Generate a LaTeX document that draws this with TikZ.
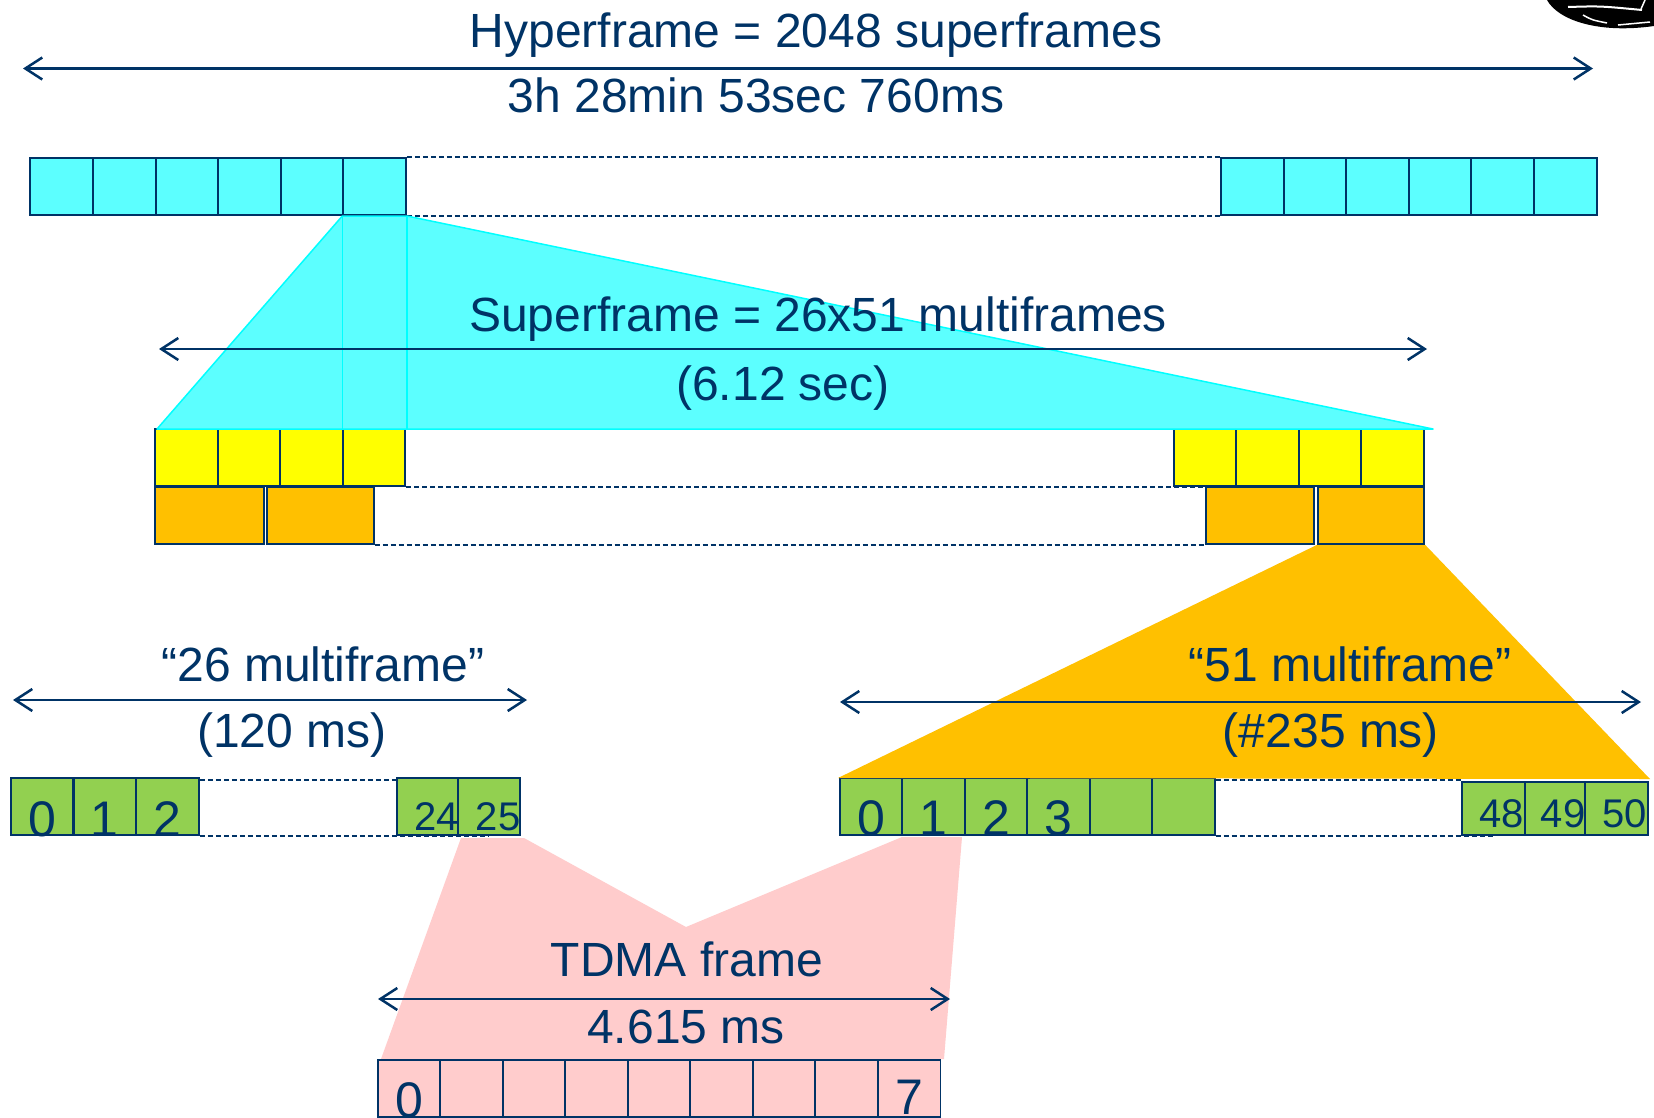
\documentclass[tikz,border=0pt]{standalone}
\usepackage{fontspec}
\setmainfont{Liberation Sans}
\usetikzlibrary{arrows.meta}
\definecolor{navy}{RGB}{0,51,102}
\definecolor{cyanfill}{RGB}{92,255,255}
\definecolor{cyanedge}{RGB}{0,255,255}
\definecolor{yel}{RGB}{255,255,0}
\definecolor{org}{RGB}{255,192,0}
\definecolor{grn}{RGB}{146,208,80}
\definecolor{pnk}{RGB}{255,204,204}
\begin{document}
\begin{tikzpicture}[x=1pt,y=-1pt,
  cell/.style={draw=navy, line width=2pt, rectangle, inner sep=0pt, anchor=north west, minimum height=57pt, minimum width=62.6pt},
  dashline/.style={draw=navy, line width=1.5pt, dash pattern=on 5pt off 3pt},
  span/.style={draw=navy, line width=2.5pt, {Straight Barb[length=17pt,width=22pt]}-{Straight Barb[length=17pt,width=22pt]}},
  big/.style={text=navy, font=\fontsize{48}{56}\selectfont, anchor=base, inner sep=0pt},
  dig/.style={text=navy, font=\fontsize{50}{56}\selectfont, anchor=base, inner sep=0pt},
  sdig/.style={text=navy, font=\fontsize{40}{46}\selectfont, anchor=base, inner sep=0pt},
]
\useasboundingbox (0,0) rectangle (1654,1117);
\fill[white] (0,0) rectangle (1654,1117);

% scribble top right
\fill[black] (1547,0) .. controls (1558,20) and (1598,34) .. (1654,26) -- (1654,0) -- cycle;
\draw[white, line width=2pt] (1568,7) .. controls (1600,6) .. (1642,10);
\draw[white, line width=1.5pt] (1583,15) .. controls (1592,20) .. (1607,23);
\draw[white, line width=1.5pt] (1618,25) -- (1650,22);
\draw[white, line width=1.5pt] (1645,0) -- (1641,9);

% ---------- hyperframe row ----------
\foreach \i in {0,...,5} {
  \node[cell, fill=cyanfill] (hl\i) at ({29.3+62.6*\i},157) {};
  \node[cell, fill=cyanfill] (hr\i) at ({1220+62.6*\i},157) {};
}
\draw[dashline] (hl5.north east) -- (hr0.north west);
\draw[dashline] (hl5.south east) -- (hr0.south west);

% ---------- superframe rows ----------
\foreach \i in {0,...,3} {
  \node[cell, fill=yel] (yl\i) at ({154+62.6*\i},428) {};
  \node[cell, fill=yel] (yr\i) at ({1172.7+62.5*\i},428) {};
}
\node[cell, fill=org, minimum width=109pt] (ol0) at (154.3,486) {};
\node[cell, fill=org, minimum width=107pt] (ol1) at (265.7,486) {};
\node[cell, fill=org, minimum width=108.3pt] (or0) at (1205,486) {};
\node[cell, fill=org, minimum width=106.6pt] (or1) at (1316.7,486) {};
\draw[dashline] (yl3.south east) -- (yl3.south east -| or0.north west);
\draw[dashline] (ol1.south east) -- (ol1.south east -| or0.south west);

% cyan funnel
\coordinate (cl) at (157,429);
\coordinate (cr) at (1433,429);
\filldraw[fill=cyanfill, draw=cyanedge, line width=1.5pt, line join=round]
  (hl5.south west) -- (cl) -- (cr) -- (hl5.south east) -- cycle;
\draw[cyanedge, line width=1.5pt] (hl5.south west) -- (hl5.south west |- cl);
\draw[cyanedge, line width=1.5pt] (hl5.south east) -- (hl5.south east |- cl);

% ---------- multiframe rows ----------
% pink funnel (behind)
\coordinate (p1) at (461,838);
\coordinate (p2) at (524,838);
\coordinate (p3) at (686,927);
\coordinate (p4) at (902,837);
\coordinate (p5) at (962,837);
\coordinate (p6) at (944,1059);
\coordinate (p7) at (381,1059);
\fill[pnk] (p1) -- (p2) -- (p3) -- (p4) -- (p5) -- (p6) -- (p7) -- cycle;

% 26 multiframe
\foreach \i in {0,...,2} {
  \node[cell, fill=grn] (gl\i) at ({9.8+62.7*\i},777) {};
}
\node[cell, fill=grn, minimum width=61pt] (gl24) at (396,777) {};
\node[cell, fill=grn, minimum width=62pt] (gl25) at (457,777) {};
\draw[dashline] ([yshift=-3pt]gl2.north east) -- ([yshift=-3pt]gl2.north east -| gl24.north west);
\draw[dashline] (gl2.south east) -- (gl2.south east -| gl25.south);

% 51 multiframe
\foreach \i in {0,...,5} {
  \node[cell, fill=grn] (gr\i) at ({838.6+62.5*\i},777) {};
}
\node[cell, fill=grn, minimum width=62.7pt, minimum height=53pt] (g48) at (1461,781) {};
\node[cell, fill=grn, minimum width=60.7pt, minimum height=53pt] (g49) at (1523.7,781) {};
\node[cell, fill=grn, minimum width=62.6pt, minimum height=53pt] (g50) at (1584.4,781) {};
\draw[dashline] ([yshift=-3pt]gr5.north east) -- ([yshift=-3pt]gr5.north east -| g48.north west);
\draw[dashline] (gr5.south east) -- (gr5.south east -| g48.south);

% orange funnel
\coordinate (ofl) at (838,778);
\coordinate (ofr) at (1650,779);
\fill[org] (or1.south west) -- (ofl) -- (ofr) -- (or1.south east) -- cycle;

% TDMA row
\foreach \i in {0,...,8} {
  \node[cell, fill=pnk, line width=1.8pt] (t\i) at ({376.9+62.5*\i},1059) {};
}

% ---------- digits ----------
\node[dig] (d0) at (gl0.center |- 0,836) {0};
\node[dig] (d1) at (gl1.center |- 0,836) {1};
\node[dig] (d2) at (gl2.center |- 0,836) {2};
\node[sdig] (d24) at ([xshift=9pt]gl24.center |- 0,830) {24};
\node[sdig] (d25) at ([xshift=9pt]gl25.center |- 0,830) {25};
\node[dig] (e0) at (gr0.center |- 0,835) {0};
\node[dig] (e1) at (gr1.center |- 0,835) {1};
\node[dig] (e2) at (gr2.center |- 0,835) {2};
\node[dig] (e3) at (gr3.center |- 0,835) {3};
\node[sdig] (e48) at ([xshift=8pt]g48.center |- 0,827) {48};
\node[sdig] (e49) at ([xshift=8pt]g49.center |- 0,827) {49};
\node[sdig] (e50) at ([xshift=8pt]g50.center |- 0,827) {50};
\node[dig] (f0) at (t0.center |- 0,1117) {0};
\node[dig] (f7) at (t8.center |- 0,1114) {7};

% ---------- labels and spans ----------
\node[big] (thyper) at (816,47) {Hyperframe = 2048 superframes};
\node[big] (thtime) at (756,112) {3h 28min 53sec 760ms};
\coordinate (ha1) at (23,68.5);
\coordinate (ha2) at (1593,68.5);
\draw[span] (ha1) -- (ha2);

\node[big] (tsuper) at (818,331) {Superframe = 26x51 multiframes};
\node[big] (tstime) at (783,400) {(6.12 sec)};
\coordinate (sa1) at (159,349);
\coordinate (sa2) at (1427,349);
\draw[span] (sa1) -- (sa2);

\node[big] (t26) at (323,681) {``26 multiframe''};
\node[big] (t26time) at (292,747) {(120 ms)};
\coordinate (ma1) at (13,700);
\coordinate (ma2) at (527,700);
\draw[span] (ma1) -- (ma2);

\node[big] (t51) at (1350,681) {``51 multiframe''};
\node[big] (t51time) at (1331,747) {(\#235 ms)};
\coordinate (na1) at (840,702);
\coordinate (na2) at (1641,702);
\draw[span] (na1) -- (na2);

\node[big] (ttdma) at (687,976) {TDMA frame};
\node[big] (tttime) at (686,1043) {4.615 ms};
\coordinate (ta1) at (378,999);
\coordinate (ta2) at (950,999);
\draw[span] (ta1) -- (ta2);
\end{tikzpicture}
\end{document}
